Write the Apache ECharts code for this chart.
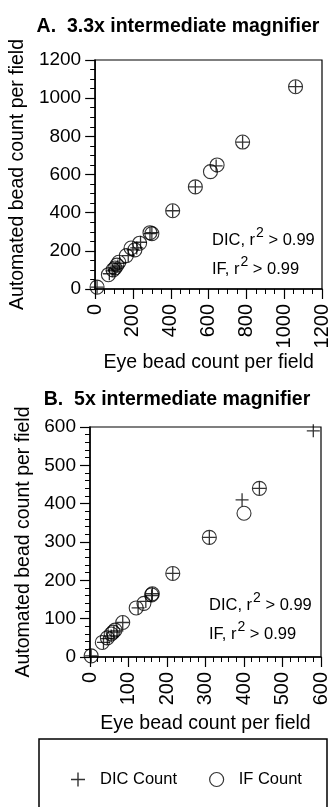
<!DOCTYPE html>
<html>
<head>
<meta charset="utf-8">
<script src="https://cdn.jsdelivr.net/npm/echarts@6/dist/echarts.min.js"></script>
<style>
  html, body { margin: 0; padding: 0; background: #fff; }
  #chart { width: 332px; height: 807px; }
</style>
</head>
<body>
<div id="chart"></div>
<script>
// panel A: 3.3x magnifier, [eye count, automated count]
var aDic = [[10,10],[75,80],[90,95],[100,100],[110,110],[120,120],[130,135],[175,175],[200,205],[220,215],[240,245],[290,290],[300,295],[410,410],[530,535],[640,645],[780,770],[1060,1060]];
var aIf = [[10,10],[70,75],[95,100],[105,110],[115,125],[125,140],[165,175],[190,215],[210,205],[235,240],[290,295],[300,290],[410,410],[530,535],[610,615],[645,650],[780,770],[1060,1060]];
// panel B: 5x magnifier
var bDic = [[3,3],[35,38],[45,48],[55,55],[62,65],[70,68],[85,90],[125,128],[145,145],[160,160],[162,165],[215,218],[310,312],[395,410],[440,440],[580,590]];
var bIf = [[3,3],[32,38],[45,50],[55,60],[60,65],[65,70],[85,90],[120,128],[140,140],[160,162],[162,165],[215,218],[310,312],[400,375],[440,440]];

var titles = ['A.  3.3x intermediate magnifier', 'B.  5x intermediate magnifier'];
var axisMax = [1200, 600];
var axisStep = [200, 100];
var minorSplit = [4, 5];
var xNameGap = [64, 57];
var yNameGap = [61, 43];

var font = '"Liberation Sans", Arial, sans-serif';
var plusPath = 'path://M5.4,0h1.2v5.4h5.4v1.2h-5.4v5.4h-1.2v-5.4h-5.4v-1.2h5.4z';

function makeAxis(i, isX) {
    return {
        type: 'value',
        gridIndex: i,
        min: 0,
        max: axisMax[i],
        interval: axisStep[i],
        name: isX ? 'Eye bead count per field' : 'Automated bead count per field',
        nameLocation: 'middle',
        nameGap: isX ? xNameGap[i] : yNameGap[i],
        nameTextStyle: { color: '#000', fontSize: 19.5, fontFamily: font },
        axisLine: { show: true, lineStyle: { color: '#000', width: 1.5 } },
        axisTick: { show: true, length: 10, lineStyle: { color: '#000', width: 1.2 } },
        minorTick: { show: true, splitNumber: minorSplit[i], length: 5, lineStyle: { color: '#000', width: 1 } },
        splitLine: { show: false },
        axisLabel: {
            color: '#000',
            fontSize: isX ? 20 : 19,
            fontFamily: font,
            rotate: isX ? 90 : 0,
            margin: isX ? 15 : 14,
            formatter: function (v) { return String(v); }
        }
    };
}

var chart = echarts.init(document.getElementById('chart'));

var option = {
    animation: false,
    backgroundColor: '#fff',
    title: [
        { text: titles[0], left: 173, top: 12, textAlign: 'center',
          textStyle: { fontSize: 19.5, fontWeight: 'bold', color: '#000', fontFamily: font } },
        { text: titles[1], left: 172, top: 385, textAlign: 'center',
          textStyle: { fontSize: 19.5, fontWeight: 'bold', color: '#000', fontFamily: font } }
    ],
    grid: [
        { left: 90, top: 60, width: 232, height: 229, show: true, borderColor: '#000', borderWidth: 1.2, backgroundColor: 'transparent' },
        { left: 90, top: 427, width: 231, height: 230, show: true, borderColor: '#000', borderWidth: 1.2, backgroundColor: 'transparent' }
    ],
    xAxis: [makeAxis(0, true), makeAxis(1, true)],
    yAxis: [makeAxis(0, false), makeAxis(1, false)],
    legend: {
        left: 66,
        top: 766,
        itemWidth: 14,
        itemHeight: 14,
        itemGap: 32,
        selectedMode: false,
        textStyle: { fontSize: 16.5, color: '#000', fontFamily: font, padding: [0, 0, 0, 10] },
        data: [
            { name: 'DIC Count', icon: plusPath, itemStyle: { color: '#000' } },
            { name: 'IF Count', icon: 'circle', itemStyle: { color: 'rgba(0,0,0,0)', borderColor: '#000', borderWidth: 1.2 } }
        ]
    },
    graphic: [
        { type: 'text', left: 212, top: 226, style: { text: '{a|DIC, r}{s|2}{a| > 0.99}', rich: {
            a: { fontSize: 16.5, fontFamily: font, fill: '#000' },
            s: { fontSize: 14, fontFamily: font, fill: '#000', padding: [0, 0, 14, 1] } } } },
        { type: 'text', left: 212, top: 255, style: { text: '{a|IF, r}{s|2}{a| > 0.99}', rich: {
            a: { fontSize: 16.5, fontFamily: font, fill: '#000' },
            s: { fontSize: 14, fontFamily: font, fill: '#000', padding: [0, 0, 14, 1] } } } },
        { type: 'text', left: 209, top: 591, style: { text: '{a|DIC, r}{s|2}{a| > 0.99}', rich: {
            a: { fontSize: 16.5, fontFamily: font, fill: '#000' },
            s: { fontSize: 14, fontFamily: font, fill: '#000', padding: [0, 0, 14, 1] } } } },
        { type: 'text', left: 209, top: 620, style: { text: '{a|IF, r}{s|2}{a| > 0.99}', rich: {
            a: { fontSize: 16.5, fontFamily: font, fill: '#000' },
            s: { fontSize: 14, fontFamily: font, fill: '#000', padding: [0, 0, 14, 1] } } } },
        // legend frame
        { type: 'rect', shape: { x: 39, y: 739, width: 288, height: 120 },
          style: { fill: 'none', stroke: '#000', lineWidth: 1.5 } }
    ],
    series: [
        { name: 'DIC Count', type: 'scatter', xAxisIndex: 0, yAxisIndex: 0, symbol: plusPath, symbolSize: 13,
          itemStyle: { color: '#000' }, z: 3, data: aDic },
        { name: 'IF Count', type: 'scatter', xAxisIndex: 0, yAxisIndex: 0, symbol: 'circle', symbolSize: 14,
          itemStyle: { color: 'rgba(0,0,0,0)', borderColor: '#000', borderWidth: 1.1 }, data: aIf },
        { name: 'DIC Count', type: 'scatter', xAxisIndex: 1, yAxisIndex: 1, symbol: plusPath, symbolSize: 13,
          itemStyle: { color: '#000' }, z: 3, data: bDic },
        { name: 'IF Count', type: 'scatter', xAxisIndex: 1, yAxisIndex: 1, symbol: 'circle', symbolSize: 14,
          itemStyle: { color: 'rgba(0,0,0,0)', borderColor: '#000', borderWidth: 1.1 }, data: bIf }
    ]
};

chart.setOption(option);
</script>
</body>
</html>
